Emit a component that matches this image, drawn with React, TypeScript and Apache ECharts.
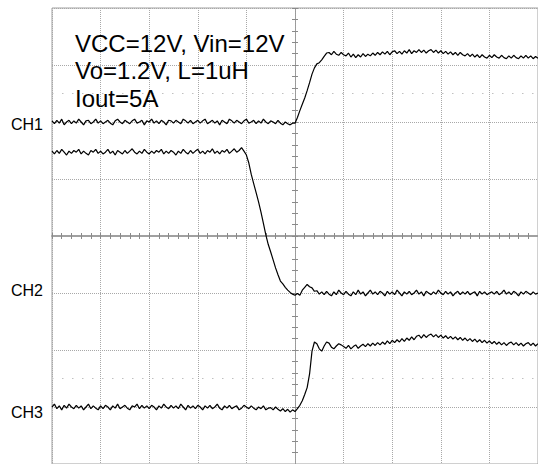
import React, { useEffect, useRef } from "react";
import * as echarts from "echarts";

// Sample time base in divisions (-5 .. 5, 0.05 div per sample)
const T_START = -5;
const T_STEP = 0.05;

// Channel traces (in vertical divisions, centre line = 0)
const CH1_VALUES = [
  2.02, 1.97, 2.03, 1.98, 2.05, 1.95, 2.00, 2.03, 1.97, 2.02,
  1.98, 2.05, 2.00, 1.95, 2.02, 2.03, 1.97, 2.00, 2.05, 1.98,
  2.02, 1.97, 2.00, 2.03, 1.98, 1.95, 2.02, 2.05, 2.00, 1.97,
  2.03, 2.00, 1.97, 2.02, 2.05, 1.98, 2.00, 2.03, 1.95, 2.02,
  2.00, 2.05, 1.98, 2.02, 1.97, 2.03, 2.00, 1.95, 2.03, 2.02,
  1.98, 2.03, 2.00, 1.97, 2.05, 2.02, 1.98, 2.03, 1.97, 2.00,
  2.03, 1.98, 2.02, 2.05, 1.97, 2.00, 2.03, 1.98, 2.02, 1.95,
  2.03, 2.00, 1.97, 2.05, 2.02, 1.98, 2.03, 2.00, 1.97, 2.02,
  2.05, 1.98, 2.00, 2.03, 1.97, 2.02, 1.98, 2.05, 2.00, 1.97,
  2.02, 2.00, 1.97, 2.03, 1.98, 1.95, 2.00, 1.97, 1.95, 1.98,
  1.98,
  2.08, 2.20, 2.31, 2.42, 2.55, 2.69, 2.84, 2.95, 3.02, 3.04,
  3.09, 3.15, 3.21, 3.22, 3.18, 3.24, 3.19, 3.17, 3.22, 3.18,
  3.16, 3.21, 3.14, 3.19, 3.13, 3.18, 3.14, 3.20, 3.15, 3.19,
  3.16, 3.21, 3.17, 3.22, 3.18, 3.23, 3.19, 3.24, 3.18, 3.23,
  3.25, 3.20, 3.24, 3.19, 3.25, 3.21, 3.27, 3.20, 3.25, 3.22,
  3.27, 3.22, 3.26, 3.21, 3.25, 3.27, 3.22, 3.26, 3.21, 3.25,
  3.20, 3.24, 3.19, 3.23, 3.18, 3.22, 3.17, 3.22, 3.18, 3.16,
  3.20, 3.15, 3.19, 3.14, 3.18, 3.13, 3.18, 3.14, 3.12, 3.17,
  3.13, 3.18, 3.14, 3.12, 3.17, 3.13, 3.11, 3.16, 3.12, 3.17,
  3.13, 3.11, 3.16, 3.12, 3.17, 3.12, 3.16, 3.11, 3.15, 3.12,
];

const CH2_VALUES = [
  1.49, 1.44, 1.50, 1.45, 1.52, 1.47, 1.42, 1.49, 1.45, 1.50,
  1.47, 1.52, 1.44, 1.49, 1.45, 1.42, 1.50, 1.47, 1.52, 1.45,
  1.49, 1.44, 1.47, 1.52, 1.45, 1.49, 1.42, 1.50, 1.47, 1.44,
  1.50, 1.45, 1.49, 1.53, 1.47, 1.44, 1.49, 1.45, 1.52, 1.47,
  1.44, 1.49, 1.45, 1.50, 1.47, 1.52, 1.44, 1.49, 1.45, 1.50,
  1.47, 1.42, 1.49, 1.45, 1.52, 1.47, 1.44, 1.50, 1.45, 1.49,
  1.52, 1.45, 1.49, 1.44, 1.50, 1.47, 1.53, 1.45, 1.49, 1.44,
  1.50, 1.47, 1.52, 1.45, 1.49, 1.53, 1.47, 1.50, 1.55, 1.49,
  1.42,
  1.28, 1.08, 0.92, 0.76, 0.60, 0.42, 0.22, 0.02, -0.15, -0.28,
  -0.42, -0.56, -0.68, -0.79, -0.84, -0.90, -0.95, -0.99, -1.02, -1.04,
  -1.01, -1.04, -0.95, -0.90, -0.85, -0.89, -0.91, -0.97, -0.96, -1.02,
  -0.98, -1.03, -0.97, -1.02, -1.05, -0.98, -1.03, -0.95, -1.00, -1.03,
  -0.97, -1.02, -1.05, -0.98, -1.03, -0.95, -1.02, -0.98, -1.05, -1.00,
  -0.95, -1.02, -0.98, -1.03, -0.97, -1.00, -1.05, -0.97, -1.02, -0.98,
  -1.03, -0.95, -1.00, -1.05, -0.98, -1.02, -0.97, -1.03, -1.00, -0.95,
  -1.02, -0.98, -1.05, -0.97, -1.00, -1.03, -0.98, -1.02, -0.95, -1.00,
  -1.03, -0.97, -1.02, -0.98, -1.05, -1.00, -0.97, -1.03, -0.98, -1.02,
  -0.97, -1.03, -1.00, -0.98, -1.05, -0.97, -1.02, -0.98, -1.03, -1.00,
  -0.98, -1.02, -0.97, -1.03, -1.00, -0.95, -1.02, -0.98, -1.03, -0.97,
  -1.00, -1.05, -0.98, -1.02, -0.97, -1.00, -1.03, -0.98, -1.02, -1.00,
];

const CH3_VALUES = [
  -3.00, -2.95, -3.03, -2.98, -3.05, -2.97, -3.02, -2.95, -3.00, -3.03,
  -2.97, -3.02, -2.98, -3.05, -3.00, -2.95, -3.03, -2.98, -3.02, -3.05,
  -2.98, -3.03, -2.97, -3.00, -3.05, -2.98, -3.02, -2.95, -3.03, -3.00,
  -2.97, -3.02, -3.05, -2.98, -3.00, -2.95, -3.03, -2.97, -3.02, -2.98,
  -3.03, -2.97, -3.00, -3.05, -2.98, -3.02, -2.95, -3.00, -3.03, -2.97,
  -3.02, -2.98, -3.03, -2.95, -3.00, -3.05, -2.97, -3.02, -2.98, -3.03,
  -2.97, -3.00, -3.05, -2.98, -3.02, -2.97, -3.03, -3.00, -2.95, -3.02,
  -3.05, -2.98, -3.02, -2.97, -3.03, -3.00, -2.98, -3.05, -3.02, -2.97,
  -3.00, -3.03, -2.98, -3.02, -3.05, -3.00, -3.03, -2.98, -3.05, -3.02,
  -3.01, -3.05, -3.00, -3.04, -3.07, -3.03, -3.08, -3.04, -3.09, -3.05,
  -3.08,
  -3.03, -2.97, -2.89, -2.78, -2.66, -2.42, -2.02, -1.86, -1.89, -1.98,
  -2.02, -1.93, -1.86, -1.88, -1.95, -1.98, -1.93, -1.89, -1.91, -1.94,
  -1.97, -1.92, -1.98, -1.94, -1.91, -1.97, -1.93, -1.90, -1.94, -1.89,
  -1.93, -1.88, -1.92, -1.87, -1.91, -1.86, -1.90, -1.84, -1.89, -1.83,
  -1.87, -1.82, -1.86, -1.80, -1.85, -1.79, -1.83, -1.77, -1.82, -1.76,
  -1.74, -1.79, -1.73, -1.78, -1.74, -1.72, -1.77, -1.73, -1.78, -1.74,
  -1.79, -1.75, -1.80, -1.76, -1.81, -1.77, -1.82, -1.78, -1.83, -1.79,
  -1.84, -1.80, -1.85, -1.81, -1.86, -1.82, -1.87, -1.83, -1.88, -1.84,
  -1.89, -1.85, -1.90, -1.86, -1.91, -1.87, -1.92, -1.88, -1.86, -1.91,
  -1.87, -1.92, -1.88, -1.93, -1.89, -1.87, -1.92, -1.88, -1.93, -1.89,
];

const CHANNEL_NAMES = ["CH1", "CH2", "CH3"];
const CHANNEL_LEVELS = [1.96, -0.95, -3.09];
const MARKER_LEVELS = [2.5, -2.5];
const NOTES = ["VCC=12V, Vin=12V", "Vo=1.2V, L=1uH", "Iout=5A"];

const FONT = "'Liberation Sans', Arial, Helvetica, sans-serif";

function toPairs(values: number[]) {
  return values.map((v, i) => [T_START + i * T_STEP, v]);
}

export default function App() {
  const ref = useRef<HTMLDivElement>(null);

  useEffect(() => {
    if (!ref.current) return;
    const chart = echarts.init(ref.current, undefined, { renderer: "svg" });

    const gridLine = { show: true, lineStyle: { type: "dotted", color: "#a8a8a8", width: 1 } };
    const tickStyle = { color: "#8a8a8a", width: 1 };
    const traceStyle = { color: "#000000", width: 1.2 };

    const option: any = {
      animation: false,
      backgroundColor: "#ffffff",
      grid: {
        left: 52,
        top: 8,
        width: 490,
        height: 460,
        show: true,
        borderColor: "#a0a0a0",
        borderWidth: 1,
        backgroundColor: "#ffffff",
      },
      xAxis: [
        {
          type: "value",
          min: -5,
          max: 5,
          interval: 1,
          position: "bottom",
          axisLine: { show: true, onZero: true, lineStyle: { color: "#a0a0a0", width: 2 } },
          axisTick: { show: true, length: 3, lineStyle: tickStyle },
          minorTick: { show: true, splitNumber: 5, length: 3, lineStyle: tickStyle },
          axisLabel: { show: false },
          splitLine: gridLine,
          minorSplitLine: { show: false },
        },
        {
          type: "value",
          min: -5,
          max: 5,
          interval: 1,
          position: "top",
          axisLine: { show: false, onZero: true },
          axisTick: { show: true, length: 3, lineStyle: tickStyle },
          minorTick: { show: true, splitNumber: 5, length: 3, lineStyle: tickStyle },
          axisLabel: { show: false },
          splitLine: { show: false },
        },
      ],
      yAxis: [
        {
          type: "value",
          min: -4,
          max: 4,
          interval: 1,
          position: "left",
          axisLine: { show: true, onZero: true, lineStyle: { color: "#999999", width: 1, type: "dotted" } },
          axisTick: { show: true, length: 3, lineStyle: tickStyle },
          minorTick: { show: true, splitNumber: 5, length: 3, lineStyle: tickStyle },
          axisLabel: { show: false },
          splitLine: gridLine,
        },
        {
          type: "value",
          min: -4,
          max: 4,
          interval: 1,
          position: "right",
          axisLine: { show: false, onZero: true },
          axisTick: { show: true, length: 3, lineStyle: tickStyle },
          minorTick: { show: true, splitNumber: 5, length: 3, lineStyle: tickStyle },
          axisLabel: { show: false },
          splitLine: { show: false },
        },
        {
          type: "value",
          min: -4,
          max: 4,
          interval: 1,
          position: "left",
          axisLine: { show: false, onZero: false },
          axisTick: { show: false },
          splitLine: { show: false },
          axisLabel: {
            show: true,
            customValues: CHANNEL_LEVELS,
            margin: 9,
            color: "#000000",
            fontSize: 16,
            fontFamily: FONT,
            formatter: (v: number) => {
              const idx = CHANNEL_LEVELS.findIndex((l) => Math.abs(l - v) < 1e-6);
              return idx >= 0 ? CHANNEL_NAMES[idx] : "";
            },
          },
        },
      ],
      graphic: NOTES.map((t, i) => ({
        type: "text",
        left: 75,
        top: 31 + i * 27.5,
        silent: true,
        style: {
          text: t,
          fill: "#000000",
          font: `24px ${FONT}`,
        },
        z: 100,
      })),
      series: [
        {
          type: "line",
          xAxisIndex: 0,
          yAxisIndex: 0,
          data: toPairs(CH1_VALUES),
          showSymbol: false,
          symbol: "none",
          lineStyle: traceStyle,
          silent: true,
          z: 10,
          markLine: {
            silent: true,
            symbol: "none",
            label: { show: false },
            lineStyle: { type: [1.5, 8.5], color: "#c0c0c0", width: 1 },
            data: MARKER_LEVELS.map((l) => ({ yAxis: l })),
          },
        },
        {
          type: "line",
          xAxisIndex: 0,
          yAxisIndex: 0,
          data: toPairs(CH2_VALUES),
          showSymbol: false,
          symbol: "none",
          lineStyle: traceStyle,
          silent: true,
          z: 10,
        },
        {
          type: "line",
          xAxisIndex: 0,
          yAxisIndex: 0,
          data: toPairs(CH3_VALUES),
          showSymbol: false,
          symbol: "none",
          lineStyle: traceStyle,
          silent: true,
          z: 10,
        },
      ],
    };

    chart.setOption(option);
    return () => chart.dispose();
  }, []);

  return (
    <div
      ref={ref}
      style={{ position: "absolute", left: 0, top: 0, width: 538, height: 464, background: "#fff" }}
    />
  );
}
